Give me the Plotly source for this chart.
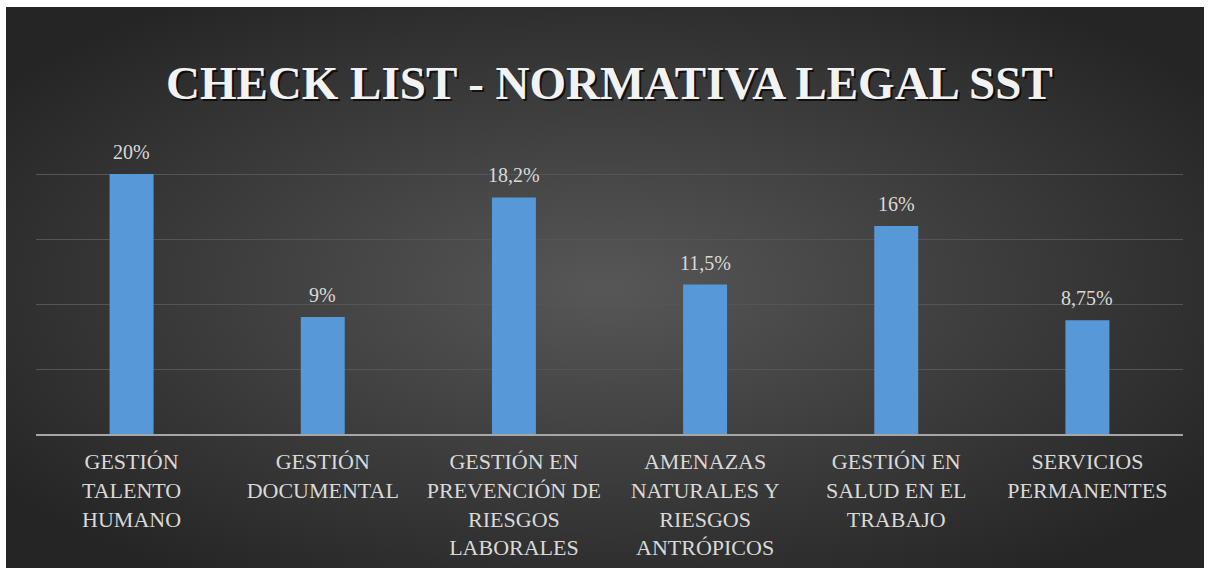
"""Check list chart - normativa legal SST."""

import base64

import plotly.graph_objects as go


CATEGORIES = [
    "GESTIÓN<br>TALENTO<br>HUMANO",
    "GESTIÓN<br>DOCUMENTAL",
    "GESTIÓN EN<br>PREVENCIÓN DE<br>RIESGOS<br>LABORALES",
    "AMENAZAS<br>NATURALES Y<br>RIESGOS<br>ANTRÓPICOS",
    "GESTIÓN EN<br>SALUD EN EL<br>TRABAJO",
    "SERVICIOS<br>PERMANENTES",
]
VALUES = [20, 9, 18.2, 11.5, 16, 8.75]
LABELS = [f"{v:g}".replace(".", ",") + "%" for v in VALUES]

TITLE = "CHECK LIST - NORMATIVA LEGAL SST"

SERIF = "Liberation Serif"
TEXT = "#D9D9D9"
TITLE_COLOR = "#F2F2F2"
BAR = "#5799D8"
GRID = "#555555"
AXIS = "#A6A6A6"

# radial gradient backdrop, like the office chart style
SVG_BG = """<svg xmlns='http://www.w3.org/2000/svg' width='1198' height='561'>
<defs><radialGradient id='g' cx='50%' cy='50%' r='62%'>
<stop offset='0%' stop-color='#575757'/>
<stop offset='100%' stop-color='#252525'/>
</radialGradient></defs>
<rect width='1198' height='561' fill='url(#g)'/></svg>"""
BG_URI = "data:image/svg+xml;base64," + base64.b64encode(SVG_BG.encode()).decode()

W, H = 1213, 571
L, R, T, B = 36, 30, 109, 137
PW, PH = W - L - R, H - T - B

fig = go.Figure(
    go.Bar(
        x=CATEGORIES,
        y=VALUES,
        marker=dict(color=BAR, line=dict(width=0)),
        hoverinfo="skip",
    )
)

# value labels a little above each bar
for cat, val, lab in zip(CATEGORIES, VALUES, LABELS):
    fig.add_annotation(
        x=cat,
        y=val,
        text=lab,
        showarrow=False,
        yanchor="bottom",
        yshift=9,
        font=dict(family=SERIF, size=20, color=TEXT),
    )

# background image spans the frame inside the thin white border
fig.add_layout_image(
    source=BG_URI,
    xref="paper",
    yref="paper",
    x=(6 - L) / PW,
    y=(H - B - 7) / PH,
    sizex=1198 / PW,
    sizey=561 / PH,
    sizing="stretch",
    xanchor="left",
    yanchor="top",
    layer="below",
)

# title with a soft drop shadow
for dx, dy, col in [(2, -2, "rgba(0,0,0,0.7)"), (0, 0, TITLE_COLOR)]:
    fig.add_annotation(
        text=f"<b>{TITLE}</b>",
        xref="paper",
        yref="paper",
        x=0.5,
        y=(H - B - 55) / PH,
        xshift=dx,
        yshift=dy,
        showarrow=False,
        font=dict(family=SERIF, size=47, color=col),
    )

fig.update_layout(
    width=W,
    height=H,
    paper_bgcolor="white",
    plot_bgcolor="rgba(0,0,0,0)",
    margin=dict(l=L, r=R, t=T, b=B),
    bargap=0.77,
    showlegend=False,
    font=dict(family=SERIF, color=TEXT),
)
fig.update_xaxes(
    showline=True,
    linecolor=AXIS,
    linewidth=2,
    ticks="",
    ticklabelstandoff=7,
    automargin=False,
    tickfont=dict(family=SERIF, size=22, color=TEXT),
    showgrid=False,
)
fig.update_yaxes(
    range=[0, 25],
    dtick=5,
    showticklabels=False,
    automargin=False,
    gridcolor=GRID,
    gridwidth=1,
    zeroline=False,
)

fig.write_html(
    "out.html",
    config={"displayModeBar": False},
    post_script="document.body.style.margin = '0';",
)
